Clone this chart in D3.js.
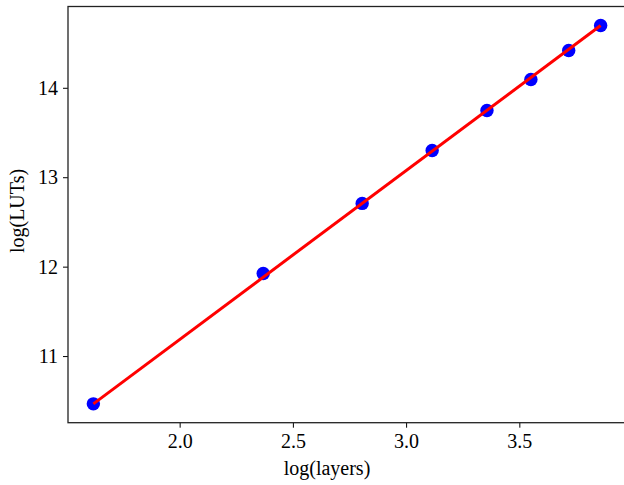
<!DOCTYPE html>
<html>
<head>
<meta charset="utf-8">
<script src="https://cdn.jsdelivr.net/npm/d3@7"></script>
<style>
  html, body { margin: 0; padding: 0; background: #fff; }
  svg { display: block; }
  text { font-family: "Liberation Serif", "Times New Roman", serif; fill: #000; }
</style>
</head>
<body>
<svg id="chart" width="624" height="485"></svg>
<script>
// Data
const xValues = [1.619, 2.369, 2.806, 3.115, 3.357, 3.551, 3.718, 3.859];
const yValues = [10.466, 11.924, 12.707, 13.299, 13.746, 14.093, 14.417, 14.697];
const fitX = [1.619, 3.859];
const fitY = [10.466, 14.697];
const xTicks = [2.0, 2.5, 3.0, 3.5];
const yTicks = [11, 12, 13, 14];
const xLabel = "log(layers)";
const yLabel = "log(LUTs)";

(function () {
const svg = d3.select("#chart");
const mLeft = 68, mRight = 626, mTop = 6.5, mBottom = 422.7;

const x = d3.scaleLinear().domain([1.507, 3.971]).range([mLeft, mRight]);
const y = d3.scaleLinear().domain([10.255, 14.909]).range([mBottom, mTop]);

const line = d3.line().x(d => x(d[0])).y(d => y(d[1]));

// points
svg.selectAll("circle.pt")
  .data(xValues.map((v, i) => [v, yValues[i]]))
  .join("circle")
  .attr("class", "pt")
  .attr("cx", d => x(d[0]))
  .attr("cy", d => y(d[1]))
  .attr("r", 6.7)
  .attr("fill", "#0000ff");

// fit line (on top of the points)
svg.append("path")
  .datum(fitX.map((v, i) => [v, fitY[i]]))
  .attr("d", line)
  .attr("fill", "none")
  .attr("stroke", "#ff0000")
  .attr("stroke-width", 3);

// axes
const xAxis = d3.axisBottom(x).tickValues(xTicks).tickFormat(d3.format(".1f")).tickSize(5).tickPadding(6);
const yAxis = d3.axisLeft(y).tickValues(yTicks).tickFormat(d3.format("d")).tickSize(5).tickPadding(5);

const gx = svg.append("g").attr("transform", `translate(0,${mBottom})`).call(xAxis);
const gy = svg.append("g").attr("transform", `translate(${mLeft},0)`).call(yAxis);
[gx, gy].forEach(g => {
  g.select(".domain").remove();
  g.selectAll(".tick line").attr("stroke", "#000").attr("stroke-width", 1);
  g.selectAll(".tick text").attr("font-size", 20).attr("font-family", "Liberation Serif").attr("fill", "#000");
});

// frame
svg.append("rect")
  .attr("x", mLeft).attr("y", mTop)
  .attr("width", mRight - mLeft).attr("height", mBottom - mTop)
  .attr("fill", "none").attr("stroke", "#222").attr("stroke-width", 1.3);

// labels
svg.append("text")
  .attr("x", 327)
  .attr("y", 475)
  .attr("text-anchor", "middle")
  .attr("font-size", 20)
  .text(xLabel);

svg.append("text")
  .attr("transform", `translate(24,211) rotate(-90)`)
  .attr("text-anchor", "middle")
  .attr("font-size", 20)
  .text(yLabel);
})();
</script>
</body>
</html>
